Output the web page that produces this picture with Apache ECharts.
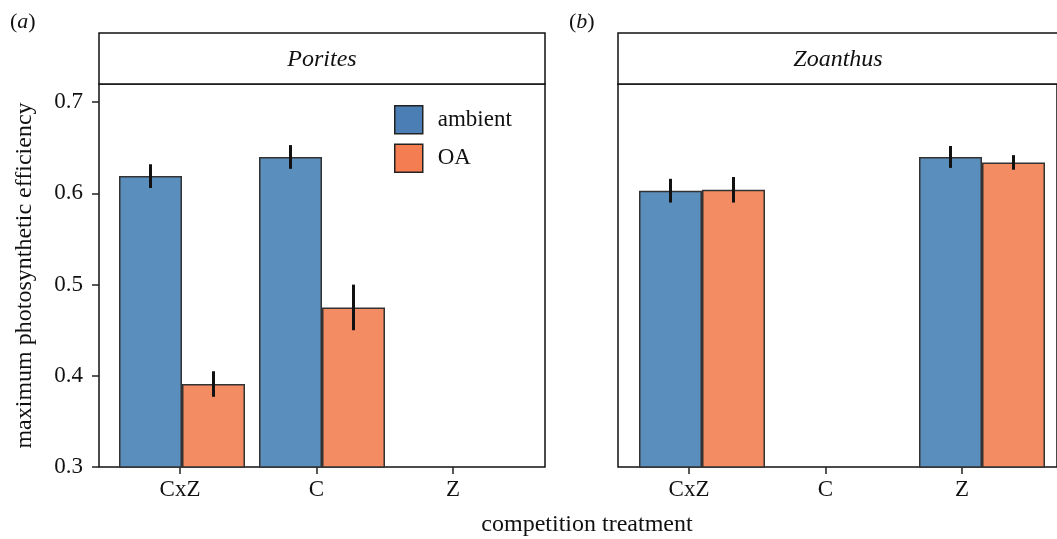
<!DOCTYPE html>
<html>
<head>
<meta charset="utf-8">
<script src="https://cdn.jsdelivr.net/npm/echarts@6/dist/echarts.min.js"></script>
<style>
  html, body { margin: 0; padding: 0; background: #fff; }
  #chart { width: 1057px; height: 539px; }
</style>
</head>
<body>
<div id="chart"></div>
<script>
// categories and values
const categories = ['CxZ', 'C', 'Z']
const yTicks = [0.3, 0.4, 0.5, 0.6, 0.7]

const poritesAmbient = [0.619, 0.640, null]
const poritesAmbientErr = [0.013, 0.013, null]
const poritesOA = [0.391, 0.475, null]
const poritesOAErr = [0.014, 0.025, null]

const zoanthusAmbient = [0.603, null, 0.640]
const zoanthusAmbientErr = [0.013, null, 0.012]
const zoanthusOA = [0.604, null, 0.634]
const zoanthusOAErr = [0.014, null, 0.008]

const FONT = '"Liberation Serif", "DejaVu Serif", serif'
const BLUE = '#5a8ebd'
const ORANGE = '#f38b63'

const chart = echarts.init(document.getElementById('chart'))

const TOP = 84
const HEIGHT = 383
const YMIN = 0.3
const YMAX = 0.72

// panel geometry: frame, tick axis, bar axis
const panels = [
  { frame: 99, ticks: 111.75, bars: 112 },
  { frame: 618, ticks: 620.75, bars: 632 }
]

let grids = []
let xAxes = []
let yAxes = []
panels.forEach((p) => {
  // frame grid
  grids.push({ left: p.frame, top: TOP, width: 446, height: HEIGHT, show: true, borderColor: '#111', borderWidth: 1.5, backgroundColor: 'transparent' })
  // tick grid
  grids.push({ left: p.ticks, top: TOP, width: 409.5, height: HEIGHT })
  // bar grid
  grids.push({ left: p.bars, top: TOP, width: 420, height: HEIGHT })
})

for (let g = 0; g < 6; g++) {
  let kind = g % 3
  xAxes.push({
    type: 'category',
    gridIndex: g,
    data: categories,
    show: kind === 1,
    axisLine: { show: false },
    axisTick: { show: kind === 1, alignWithLabel: true, length: 7, lineStyle: { color: '#222', width: 1.5 } },
    axisLabel: { show: kind === 1, fontFamily: FONT, fontSize: 23, color: '#111', margin: 11 }
  })
  let showY = g === 0
  yAxes.push({
    type: 'value',
    gridIndex: g,
    min: YMIN,
    max: YMAX,
    show: kind === 0,
    splitLine: { show: false },
    axisLine: { show: false },
    axisTick: { show: showY, length: 7, customValues: yTicks, lineStyle: { color: '#222', width: 1.5 } },
    axisLabel: { show: showY, customValues: yTicks, fontFamily: FONT, fontSize: 23, color: '#111', margin: 16, formatter: (v) => v.toFixed(1) },
    name: showY ? 'maximum photosynthetic efficiency' : '',
    nameLocation: 'middle',
    nameGap: 62,
    nameTextStyle: { fontFamily: FONT, fontSize: 24, color: '#111' }
  })
}

function barSeries(name, data, color, axis) {
  return {
    name: name,
    type: 'bar',
    xAxisIndex: axis,
    yAxisIndex: axis,
    data: data,
    barGap: '0%',
    barCategoryGap: '10%',
    itemStyle: { color: color, borderColor: '#333', borderWidth: 1.5 },
    emphasis: { disabled: true },
    z: 2
  }
}

function errSeries(values, errs, side, axis) {
  let data = []
  values.forEach((v, i) => {
    if (v != null) data.push([i, v, v - errs[i], v + errs[i]])
  })
  return {
    type: 'custom',
    xAxisIndex: axis,
    yAxisIndex: axis,
    data: data,
    z: 5,
    silent: true,
    renderItem: function (params, api) {
      let band = api.size([1, 0])[0]
      let shift = side * band * 0.225
      let lo = api.coord([api.value(0), api.value(2)])
      let hi = api.coord([api.value(0), api.value(3)])
      return {
        type: 'line',
        shape: { x1: lo[0] + shift, y1: lo[1], x2: hi[0] + shift, y2: hi[1] },
        style: { stroke: '#111', lineWidth: 3 }
      }
    }
  }
}

const series = [
  barSeries('ambient', poritesAmbient, BLUE, 2),
  barSeries('OA', poritesOA, ORANGE, 2),
  errSeries(poritesAmbient, poritesAmbientErr, -1, 2),
  errSeries(poritesOA, poritesOAErr, 1, 2),
  barSeries('ambient', zoanthusAmbient, BLUE, 5),
  barSeries('OA', zoanthusOA, ORANGE, 5),
  errSeries(zoanthusAmbient, zoanthusAmbientErr, -1, 5),
  errSeries(zoanthusOA, zoanthusOAErr, 1, 5)
]

function strip(x, label, cx) {
  return [
    { type: 'rect', shape: { x: x, y: 33, width: 446, height: 51 }, style: { fill: '#fff', stroke: '#111', lineWidth: 1.5 } },
    { type: 'text', x: cx, y: 60, style: { text: label, font: 'italic 24px ' + FONT, fill: '#111', textAlign: 'center', textVerticalAlign: 'middle' } }
  ]
}

function panelTag(x, letter) {
  return {
    type: 'text', x: x, y: 22,
    style: {
      text: '(' + '{i|' + letter + '})',
      font: '22px ' + FONT, fill: '#111', textVerticalAlign: 'middle',
      rich: { i: { fontFamily: FONT, fontSize: 22, fontStyle: 'italic', fill: '#111' } }
    }
  }
}

const option = {
  backgroundColor: '#fff',
  animation: false,
  grid: grids,
  xAxis: xAxes,
  yAxis: yAxes,
  legend: {
    left: 394,
    top: 105,
    orient: 'vertical',
    itemWidth: 28,
    itemHeight: 28,
    itemGap: 9,
    padding: 0,
    icon: 'rect',
    selectedMode: false,
    textStyle: { fontFamily: FONT, fontSize: 23, color: '#111', padding: [0, 0, 0, 10] },
    data: [
      { name: 'ambient', itemStyle: { color: '#4b7eb5', borderColor: '#222', borderWidth: 1.5 } },
      { name: 'OA', itemStyle: { color: '#f47d52', borderColor: '#222', borderWidth: 1.5 } }
    ]
  },
  graphic: [
    ...strip(99, 'Porites', 322),
    ...strip(618, 'Zoanthus', 838),
    panelTag(10, 'a'),
    panelTag(569, 'b'),
    { type: 'text', x: 587, y: 525, style: { text: 'competition treatment', font: '24px ' + FONT, fill: '#111', textAlign: 'center', textVerticalAlign: 'middle' } }
  ],
  series: series
}

chart.setOption(option)
</script>
</body>
</html>
